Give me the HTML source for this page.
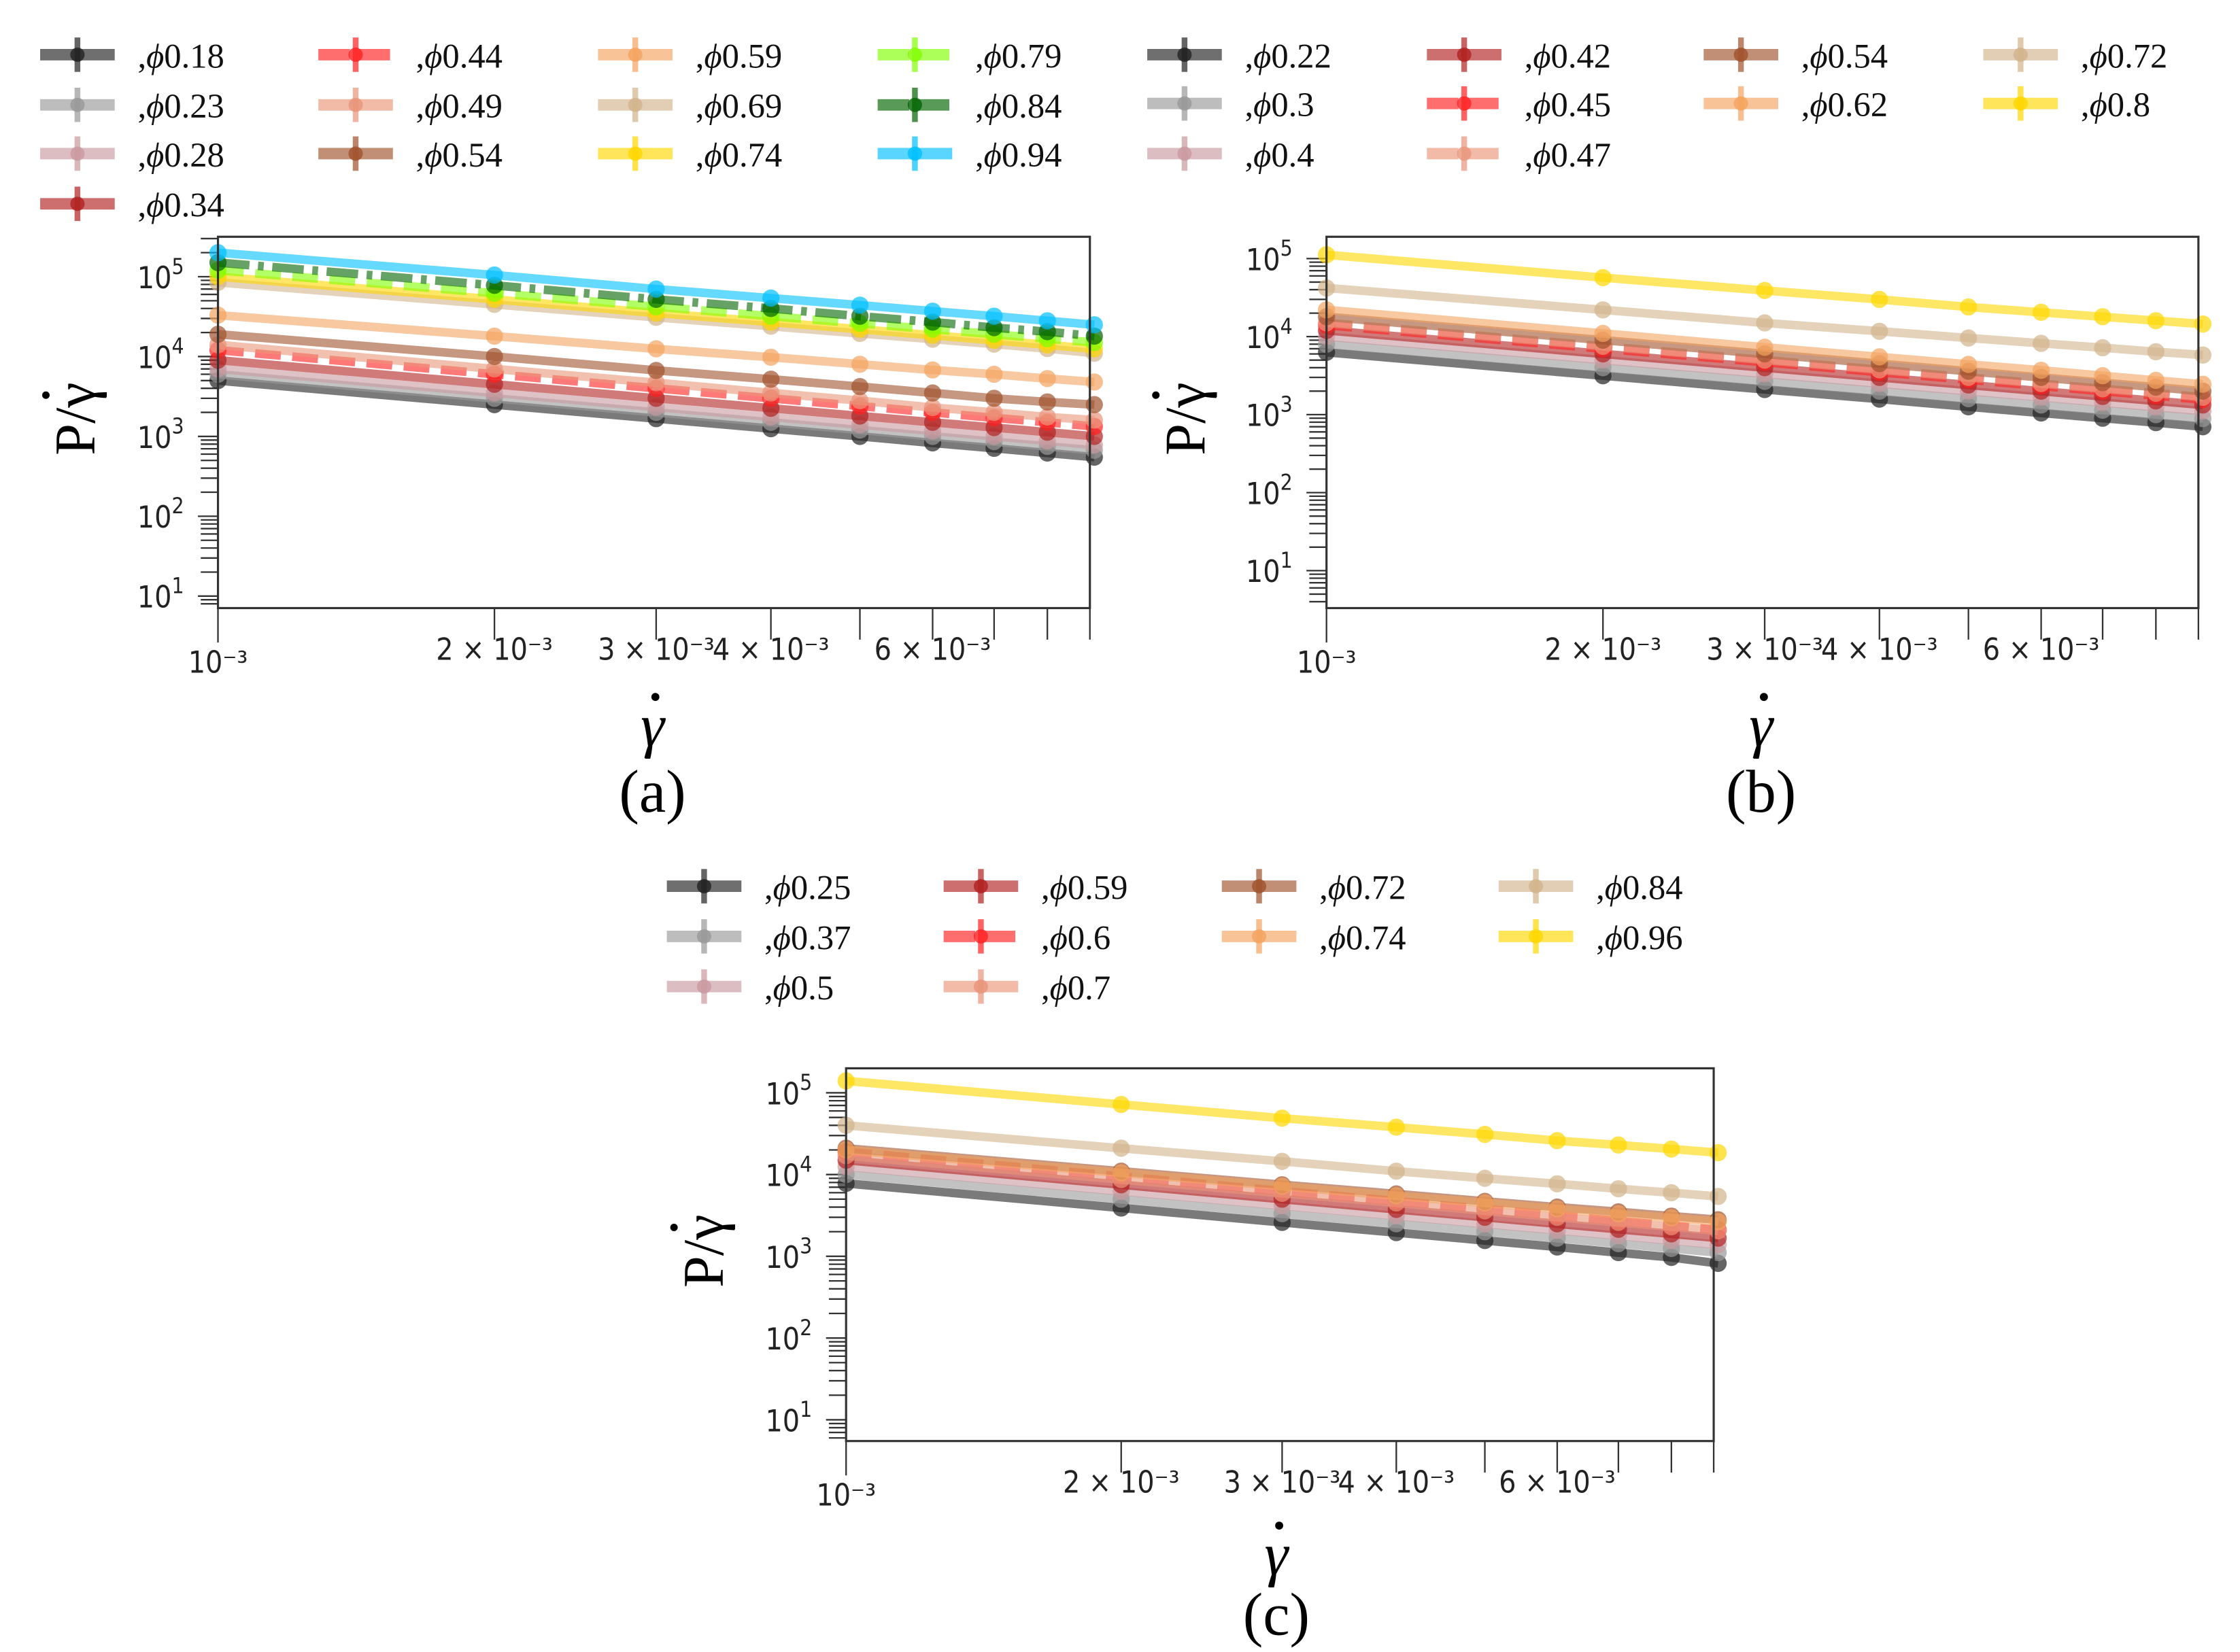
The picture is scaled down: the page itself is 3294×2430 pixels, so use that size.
<!DOCTYPE html>
<html><head><meta charset="utf-8">
<style>
html,body{margin:0;padding:0;background:#fff;}
svg{display:block;}
.tk{font-family:"DejaVu Sans Condensed","DejaVu Sans","Liberation Sans",sans-serif;font-size:21px;fill:#222;}
.lg{font-family:"Liberation Serif","DejaVu Serif",serif;font-size:24px;fill:#111;}
.ax{font-family:"Liberation Serif","DejaVu Serif",serif;fill:#000;}
</style></head>
<body>
<svg id="fig" width="3294" height="2430" viewBox="0 0 1562 1152" xmlns="http://www.w3.org/2000/svg"></svg>
<script>
// x values (shear rate)
const xVals = [0.001,0.002,0.003,0.004,0.005,0.006,0.007,0.008,0.009];
const xTickVals = [0.001,0.002,0.003,0.004,0.006];
const xTickLabels = ["10\u207B\u00B3","2 \u00D7 10\u207B\u00B3","3 \u00D7 10\u207B\u00B3","4 \u00D7 10\u207B\u00B3","6 \u00D7 10\u207B\u00B3"];
const yTickExps = [1,2,3,4,5];

// panel (a)
const aLabels = ["0.18","0.23","0.28","0.34","0.44","0.49","0.54","0.59","0.69","0.74","0.79","0.84","0.94"];
const a018 = [5000,2500,1670,1250,1000,830,710,620,550];
const a023 = [6000,3000,2000,1500,1200,1000,860,750,670];
const a028 = [7000,3500,2330,1750,1400,1170,1000,880,780];
const a034 = [9000,4500,3000,2250,1800,1500,1290,1130,1000];
const a044 = [12000,6000,4000,3000,2400,2000,1710,1500,1330];
const a049 = [14000,7000,4700,3500,2800,2300,2000,1750,1600];
const a054 = [19000,10000,6700,5200,4200,3500,3000,2700,2500];
const a059 = [33000,18000,12500,9800,8000,6800,6000,5300,4800];
const a069 = [85000,45000,31000,24000,19500,16500,14300,12600,11000];
const a074 = [100000,52000,35000,27000,22000,18500,16000,14000,12500];
const a079 = [120000,62000,42000,32000,26000,22000,19000,16700,15000];
const a084 = [150000,78000,52000,40000,32000,27000,23000,20500,18000];
const a094 = [200000,105000,70000,54000,44000,37000,32000,28000,25000];

// panel (b)
const bLabels = ["0.22","0.3","0.4","0.42","0.45","0.47","0.54","0.62","0.72","0.8"];
const b022 = [6300,3150,2100,1580,1260,1050,900,790,700];
const b030 = [8000,4000,2670,2000,1600,1330,1140,1000,890];
const b040 = [10000,5000,3330,2500,2000,1670,1430,1250,1110];
const b042 = [12000,6000,4000,3000,2400,2000,1710,1500,1330];
const b045 = [14000,7000,4700,3500,2800,2330,2000,1750,1560];
const b047 = [15000,7500,5000,3750,3000,2500,2140,1880,1670];
const b054 = [18000,9000,6000,4500,3600,3000,2570,2250,2000];
const b062 = [22000,11000,7300,5500,4400,3700,3150,2750,2450];
const b072 = [42000,22000,15000,11700,9600,8200,7200,6400,5800];
const b080 = [112000,57000,39000,30000,24000,20500,18000,16000,14500];

// panel (c)
const cLabels = ["0.25","0.37","0.5","0.59","0.6","0.7","0.72","0.74","0.84","0.96"];
const c025 = [7800,3900,2600,1950,1560,1300,1110,970,820];
const c037 = [10000,5000,3330,2500,2000,1670,1430,1250,1110];
const c050 = [12500,6250,4170,3130,2500,2080,1790,1560,1390];
const c059 = [15000,7500,5000,3750,3000,2500,2140,1880,1670];
const c060 = [19000,9500,6300,4750,3800,3170,2710,2380,2110];
const c070 = [17000,8700,5900,4500,3600,3000,2600,2300,2050];
const c072 = [21000,11000,7500,5800,4700,4000,3500,3100,2800];
const c074 = [20000,10500,7200,5500,4500,3800,3300,2950,2650];
const c084 = [40000,21000,14500,11000,9000,7700,6700,6000,5400];
const c096 = [140000,72000,49000,38000,31000,26000,23000,20500,18500];

const NS="http://www.w3.org/2000/svg";
const svg=document.getElementById('fig');
function mk(tag,attrs,parent){const e=document.createElementNS(NS,tag);for(const k in attrs)e.setAttribute(k,attrs[k]);(parent||svg).appendChild(e);return e;}

const C={black:"#222",gray:"#999",pink:"#c99aa0",brownred:"#b22222",red:"#ff2020",salmon:"#e9967a",brown:"#a0522d",orange:"#f4a460",tan:"#d2b48c",gold:"#ffd700",lime:"#7fff00",green:"#006400",sky:"#00bfff"};

function panel(cfg){
  const g=mk('g',{});
  
  
  const {L,R,T,B,ymin,ymax}=cfg;
  const xs=v=>L+(Math.log10(v)-Math.log10(0.001))/(Math.log10(0.0089)-Math.log10(0.001))*(R-L);
  const ys=v=>B-(Math.log10(v)-ymin)/(ymax-ymin)*(B-T);
  for(let e=0;e<=5;e++){
    for(let m=1;m<10;m++){
      const v=m*Math.pow(10,e);
      const lv=Math.log10(v); if(lv<ymin||lv>ymax) continue;
      const y=ys(v);
      const t=mk('line',{x1:L-(m===1?14:12),x2:L,y1:y,y2:y,stroke:'#333','stroke-width':1.1},g);
      
      
    }
  }
  yTickExps.forEach(e=>{
    const y=ys(Math.pow(10,e));
    const t=mk('text',{x:L-40,y:y+8,'text-anchor':'middle',class:'tk'},g);
    
    
    t.innerHTML='10<tspan dy="-10" font-size="15">'+e+'</tspan>';
  });
  for(let m=1;m<=9;m++){
    const v=m*0.001; const x=Math.min(xs(v),R);
    const t=mk('line',{x1:x,x2:x,y1:B,y2:B+(m===1?24:22),stroke:'#333','stroke-width':1.1},g);
    
    
  }
  xTickVals.forEach((v,i)=>{
    const x=xs(v);
    const t=mk('text',{x:x,y:i===0?B+45:B+36,'text-anchor':'middle',class:'tk'},g);
    
    
    t.textContent=xTickLabels[i];
  });
  cfg.series.forEach(s=>{
    const pts=xVals.map((xv,i)=>[xs(xv),ys(s.d[i])]);
    const d='M'+pts.map(p=>p[0].toFixed(1)+','+p[1].toFixed(1)).join(' L');
    const attrs={d:d,fill:'none',stroke:C[s.c],'stroke-width':6,'stroke-opacity':0.6,'stroke-linejoin':'round'};
    if(s.dash) attrs['stroke-dasharray']=s.dash;
    const p=mk('path',attrs,g);
    
    
    pts.forEach(pt=>{
      const c=mk('circle',{cx:pt[0],cy:pt[1],r:6,fill:C[s.c],'fill-opacity':0.7},g);
      
      
    });
  });
  const fr=mk('rect',{x:L,y:T,width:R-L,height:B-T,fill:'none',stroke:'#333','stroke-width':1.5},g);
  
  
  // y title
  const yg=mk('g',{transform:`translate(${cfg.ylx},${(T+B)/2}) rotate(-90)`},g);
  
  
  const yl=mk('text',{x:28,y:14,class:'ax','font-size':40,'text-anchor':'end'},yg);
  
  
  yl.textContent='P/\u03B3';
  const yd=mk('circle',{cx:19,cy:-20,r:2.6,fill:'#000'},yg);
  
  
  // x title
  const xl=mk('text',{x:cfg.cx,y:cfg.xly,class:'ax','font-size':42,'font-style':'italic','text-anchor':'middle'},g);
  
  
  xl.textContent='\u03B3';
  const xd=mk('circle',{cx:cfg.cx+2,cy:cfg.xly-34,r:2.8,fill:'#000'},g);
  
  
  const cap=mk('text',{x:cfg.cx,y:cfg.capy,class:'ax','font-size':42,'text-anchor':'middle'},g);
  
  
  cap.textContent=cfg.cap;
  cfg.series.forEach((s,i)=>{
    const pos=cfg.leg[i];
    const lx=pos[0], ly=pos[1];
    const ln=mk('line',{x1:lx,x2:lx+52,y1:ly,y2:ly,stroke:C[s.c],'stroke-width':8,'stroke-opacity':0.65},g);
    if(s.dash) ln.setAttribute('stroke-dasharray','22,6');
    
    
    const vb=mk('line',{x1:lx+26,x2:lx+26,y1:ly-12,y2:ly+12,stroke:C[s.c],'stroke-width':4,'stroke-opacity':0.7},g);
    
    
    const mkr=mk('circle',{cx:lx+26,cy:ly,r:5,fill:C[s.c],'fill-opacity':0.8},g);
    
    
    const t=mk('text',{x:lx+68,y:ly+9,class:'lg'},g);
    
    
    t.innerHTML=',<tspan font-style="italic">\u03D5</tspan>'+s.l;
  });
}

panel({name:'panel-a',L:152,R:760,T:165,B:424,ymin:0.85,ymax:5.5,ylx:52,cx:455,xly:520,capy:566,cap:'(a)',
 series:[
  {l:aLabels[0],d:a018,c:'black'},{l:aLabels[1],d:a023,c:'gray'},{l:aLabels[2],d:a028,c:'pink'},{l:aLabels[3],d:a034,c:'brownred'},
  {l:aLabels[4],d:a044,c:'red',dash:'18,8'},{l:aLabels[5],d:a049,c:'salmon'},{l:aLabels[6],d:a054,c:'brown'},
  {l:aLabels[7],d:a059,c:'orange'},{l:aLabels[8],d:a069,c:'tan'},{l:aLabels[9],d:a074,c:'gold'},
  {l:aLabels[10],d:a079,c:'lime',dash:'18,8'},{l:aLabels[11],d:a084,c:'green',dash:'22,6,4,6'},{l:aLabels[12],d:a094,c:'sky'}],
 leg:[[28,38],[28,73],[28,107],[28,142],[222,38],[222,73],[222,107],[417,38],[417,73],[417,107],[612,38],[612,73],[612,107]]});

panel({name:'panel-b',L:925,R:1533,T:165,B:424,ymin:0.52,ymax:5.28,ylx:826,cx:1228,xly:520,capy:566,cap:'(b)',
 series:[
  {l:bLabels[0],d:b022,c:'black'},{l:bLabels[1],d:b030,c:'gray'},{l:bLabels[2],d:b040,c:'pink'},
  {l:bLabels[3],d:b042,c:'brownred'},{l:bLabels[4],d:b045,c:'red',dash:'18,8'},{l:bLabels[5],d:b047,c:'salmon',dash:'18,8'},
  {l:bLabels[6],d:b054,c:'brown'},{l:bLabels[7],d:b062,c:'orange'},
  {l:bLabels[8],d:b072,c:'tan'},{l:bLabels[9],d:b080,c:'gold'}],
 leg:[[800,38],[800,72],[800,107],[995,38],[995,72],[995,107],[1188,38],[1188,72],[1383,38],[1383,72]]});

panel({name:'panel-c',L:590,R:1195,T:745,B:1005,ymin:0.74,ymax:5.3,ylx:490,cx:890,xly:1098,capy:1140,cap:'(c)',
 series:[
  {l:cLabels[0],d:c025,c:'black'},{l:cLabels[1],d:c037,c:'gray'},{l:cLabels[2],d:c050,c:'pink'},
  {l:cLabels[3],d:c059,c:'brownred'},{l:cLabels[4],d:c060,c:'red',dash:'18,8'},{l:cLabels[5],d:c070,c:'salmon'},
  {l:cLabels[6],d:c072,c:'brown'},{l:cLabels[7],d:c074,c:'orange'},
  {l:cLabels[8],d:c084,c:'tan'},{l:cLabels[9],d:c096,c:'gold'}],
 leg:[[465,618],[465,653],[465,688],[658,618],[658,653],[658,688],[852,618],[852,653],[1045,618],[1045,653]]});
</script>
</body></html>
